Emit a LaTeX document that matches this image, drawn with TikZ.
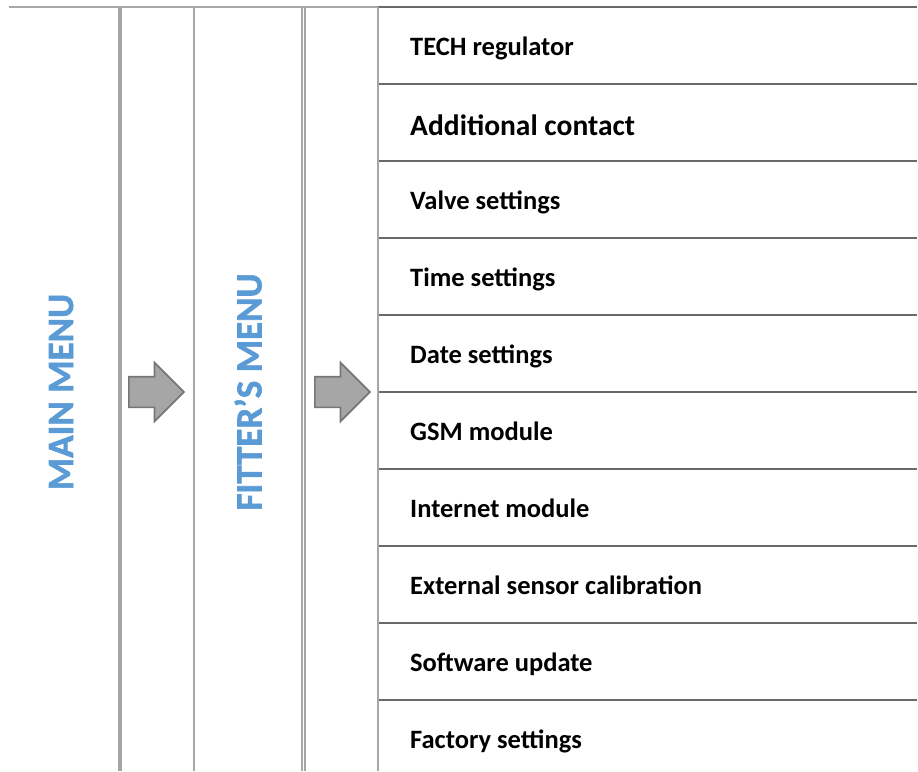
\documentclass[tikz,border=0pt]{standalone}
\usepackage{fontspec}
\setmainfont{Carlito}
\newfontfamily\heavyfont[FakeBold=1.5]{Carlito Bold}
\usetikzlibrary{positioning, shapes.arrows}

\definecolor{menublue}{HTML}{5B9BD5}
\definecolor{bargray}{HTML}{A6A6A6}
\definecolor{rulegray}{HTML}{696969}
\definecolor{arrowgray}{HTML}{A6A6A6}
\definecolor{arrowedge}{HTML}{767676}

\tikzset{
  item/.style = {font=\fontsize{26.5}{26.5}\selectfont\bfseries, inner sep=0pt, anchor=base west},
  menu/.style = {font=\fontsize{37}{37}\heavyfont, text=menublue, rotate=90,
                 inner sep=0pt, text height=24pt, text depth=0pt},
  go/.style   = {single arrow, draw=arrowedge, fill=arrowgray, line width=1.7pt,
                 minimum height=55pt, minimum width=57pt, single arrow head extend=14pt,
                 inner sep=0pt, text height=29pt, text depth=0pt},
  bar/.style  = {draw=bargray, line width=2pt},
  rule/.style = {draw=rulegray, line width=2pt}
}

\begin{document}
\begin{tikzpicture} [x=1pt, y=-1pt, node distance = 77pt, on grid]
   \useasboundingbox (0,0) rectangle (918,771);

   % left part
   \node (main)[menu] at (61,392) {MAIN MENU};
   \node (fitter)[menu, right = 188.5pt of main] {FITTER’S MENU};
   \node (go1)[go, right = 67pt of main, anchor=tail] {};
   \node (go2)[go, right = 64.5pt of fitter, anchor=tail] {};

   % menu items
   \node (tech)[item] at (410,55.7) {TECH regulator};
   \node (contact)[item, font=\fontsize{29.5}{29.5}\selectfont\bfseries, below = 79.3pt of tech.base west, anchor=base west] {Additional contact};
   \node (valve)[item, below = 74.7pt of contact.base west, anchor=base west] {Valve settings};
   \node (time)[item, below = of valve.base west, anchor=base west] {Time settings};
   \node (date)[item, below = of time.base west, anchor=base west] {Date settings};
   \node (gsm)[item, below = of date.base west, anchor=base west] {GSM module};
   \node (internet)[item, below = of gsm.base west, anchor=base west] {Internet module};
   \node (sensor)[item, below = of internet.base west, anchor=base west] {External sensor calibration};
   \node (update)[item, below = of sensor.base west, anchor=base west] {Software update};
   \node (factory)[item, below = of update.base west, anchor=base west] {Factory settings};

   % table lines
   \draw[bar] (9,7.3) -- (378,7.3);
   \draw[rule] (378,7.3) -- (917,7.3);
   \foreach \y in {84.3,161.3,238.3,315.3,392.3,469.3,546.3,623.3,700.3}
      \draw[rule] (378,\y) -- (917,\y);
   \draw[bar, line width=3.3pt] (120,7.3) -- (120,771);
   \draw[bar] (194,7.3) -- (194,771);
   \draw[bar, line width=1.2pt] (302,7.3) -- (302,771);
   \draw[bar, line width=1.2pt] (305,7.3) -- (305,771);
   \draw[bar] (378,7.3) -- (378,771);
\end{tikzpicture}
\end{document}
